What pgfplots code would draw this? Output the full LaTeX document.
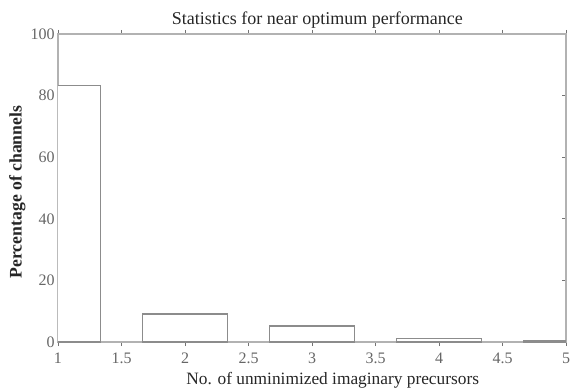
\documentclass[border=0pt]{standalone}
\usepackage{pgfplots}
\pgfplotsset{compat=1.18}
\usepackage{fontspec}
\setmainfont{Liberation Serif}
\begin{document}
\begin{tikzpicture}
\begin{axis}[
  name=ax,
  anchor=south west, at={(0,0)},
  width=381pt, height=231pt, scale only axis,
  xmin=1, xmax=5, ymin=0, ymax=100,
  xtick={1,1.5,...,5}, ytick={0,20,...,100},
  xticklabels={1,1.5,2,2.5,3,3.5,4,4.5,5},
  tick align=inside, tick pos=both,
  major tick length=3pt,
  axis line style={draw=black!30, line width=1.6pt},
  every tick/.style={black!55, line width=0.6pt},
  tick label style={font=\fontsize{12}{14}\selectfont, text=black!60},
  xticklabel style={anchor=base, yshift=-12.75pt},
  yticklabel style={anchor=east, inner xsep=1pt, xshift=-1.25pt},
  /pgf/number format/assume math mode=true,
  title={Statistics for near optimum performance},
  title style={font=\fontsize{13.5}{15}\selectfont, at={(axis description cs:0.5,1)}, anchor=base, yshift=0.75pt, xshift=4pt, text=black!85},
  xlabel={No. of unminimized imaginary precursors},
  xlabel style={font=\fontsize{13}{15}\selectfont, at={(axis description cs:0.5,0)}, anchor=base, yshift=-32pt, xshift=15.5pt, text=black!85},
  ylabel={\textbf{Percentage of channels}},
  ylabel style={font=\fontsize{13.25}{15}\selectfont, at={(axis description cs:0,0.5)}, anchor=center, yshift=30.5pt, xshift=-3pt, text=black!85},
  ybar, bar width=0.667, bar shift=0pt,
]
\addplot[draw=black!45, fill=white, line width=0.8pt] coordinates {(1,83.4) (2,9.1) (3,5.2) (4,1.0) (5,0.5)};
\end{axis}
\pgfresetboundingbox
\path[use as bounding box] (-43.5pt,-34.5pt) rectangle (386.25pt,256.5pt);
\end{tikzpicture}
\end{document}
